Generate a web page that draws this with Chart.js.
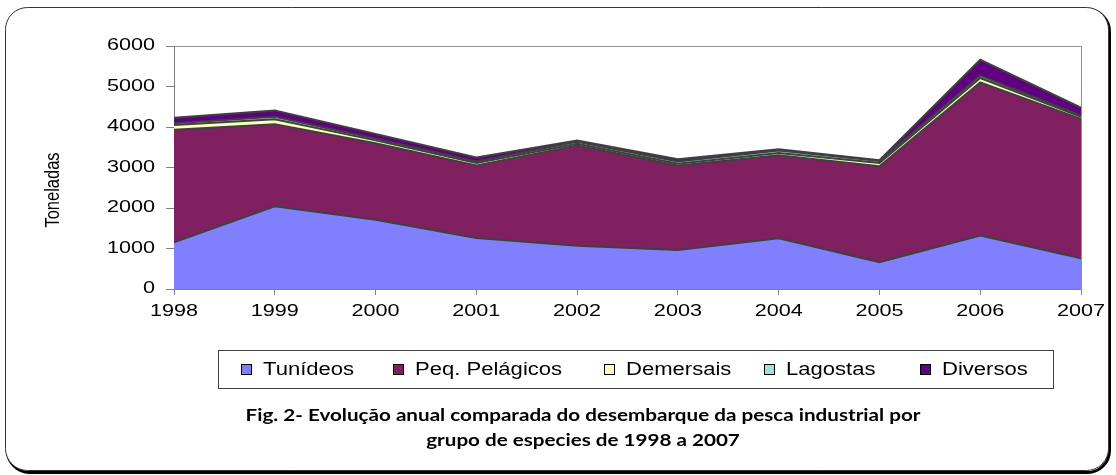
<!DOCTYPE html>
<html>
<head>
<meta charset="utf-8">
<script src="https://cdn.jsdelivr.net/npm/chart.js@4.4.1/dist/chart.umd.min.js"></script>
<style>
html,body{margin:0;padding:0;background:#fff;}
canvas{display:block;}
</style>
</head>
<body>
<canvas id="c" width="1116" height="475"></canvas>
<script>
// ---- data ----
const years = ['1998','1999','2000','2001','2002','2003','2004','2005','2006','2007'];
const tunideos   = [1150, 2040, 1710, 1260, 1070, 960, 1250, 660, 1320, 760];
const pelagicos  = [2780, 2030, 1890, 1790, 2475, 2090, 2050, 2370, 3780, 3440];
const demersais  = [120, 120, 70, 60, 40, 40, 60, 80, 110, 50];
const lagostas   = [40, 60, 40, 40, 50, 60, 60, 50, 60, 30];
const diversos   = [140, 160, 120, 100, 30, 55, 30, 20, 390, 200];
const seriesNames = ['Tunídeos','Peq. Pelágicos','Demersais','Lagostas','Diversos'];
const yTicks = [0,1000,2000,3000,4000,5000,6000];
const yTitle = 'Toneladas';
const captionLines = [
  'Fig. 2- Evolução anual comparada do desembarque da pesca industrial por',
  'grupo de especies de 1998 a 2007'
];

// ---- horizontal text stretch helper (reference text is horizontally widened) ----
const _fill = CanvasRenderingContext2D.prototype.fillText;
CanvasRenderingContext2D.prototype.fillText = function(t, x, y, mw){
  const sx = this.__sx || 1;
  if (sx !== 1) {
    this.save(); this.translate(x, y); this.scale(sx, 1);
    _fill.call(this, t, 0, 0);
    this.restore();
  } else {
    _fill.call(this, t, x, y, mw);
  }
};

const colors = ['#8080FF','#802060','#FFFFC0','#A0E0E0','#600080'];
const values = [tunideos, pelagicos, demersais, lagostas, diversos];

function roundRect(ctx, x, y, w, h, r){
  ctx.beginPath();
  ctx.moveTo(x + r, y);
  ctx.lineTo(x + w - r, y);
  ctx.arcTo(x + w, y, x + w, y + r, r);
  ctx.lineTo(x + w, y + h - r);
  ctx.arcTo(x + w, y + h, x + w - r, y + h, r);
  ctx.lineTo(x + r, y + h);
  ctx.arcTo(x, y + h, x, y + h - r, r);
  ctx.lineTo(x, y + r);
  ctx.arcTo(x, y, x + r, y, r);
  ctx.closePath();
}

const decor = {
  id: 'decor',
  beforeDraw(chart){
    const ctx = chart.ctx;
    ctx.save();
    ctx.fillStyle = '#fff';
    ctx.fillRect(0, 0, chart.width, chart.height);
    // shadow
    roundRect(ctx, 7.5, 9.5, 1102, 463, 22);
    ctx.strokeStyle = '#000'; ctx.lineWidth = 3; ctx.stroke();
    roundRect(ctx, 5.5, 7.5, 1103, 463, 22);
    ctx.fillStyle = '#fff'; ctx.fill();
    ctx.strokeStyle = '#333'; ctx.lineWidth = 1; ctx.stroke();
    ctx.restore();
    ctx.__sx = 1.35;
  },
  afterDraw(chart){
    const ctx = chart.ctx;
    const a = chart.chartArea;
    ctx.save();
    ctx.__sx = 1;
    // plot area border (top/right)
    ctx.strokeStyle = '#909090'; ctx.lineWidth = 1;
    ctx.beginPath();
    ctx.moveTo(Math.round(a.left) + 0.5, Math.round(a.top) + 0.5);
    ctx.lineTo(Math.round(a.right) + 0.5, Math.round(a.top) + 0.5);
    ctx.lineTo(Math.round(a.right) + 0.5, Math.round(a.bottom) + 0.5);
    ctx.stroke();

    // y title
    ctx.save();
    ctx.translate(54, 190);
    ctx.rotate(-Math.PI / 2);
    ctx.scale(1, 1.2);
    ctx.font = '16.5px "Liberation Sans", Arial, sans-serif';
    ctx.fillStyle = '#000';
    ctx.textAlign = 'center'; ctx.textBaseline = 'middle';
    _fill.call(ctx, yTitle, 0, 0);
    ctx.restore();

    // legend box
    ctx.strokeStyle = '#404040'; ctx.lineWidth = 1;
    ctx.strokeRect(218.5, 350.5, 835, 38);
    const legX = [241, 393, 604, 764, 920];
    const cy = 369;
    ctx.font = '17.5px "Liberation Sans", Arial, sans-serif';
    ctx.textBaseline = 'middle'; ctx.textAlign = 'left';
    chart.data.datasets.forEach((ds, i) => {
      const x = legX[i];
      ctx.fillStyle = ds.backgroundColor;
      ctx.fillRect(x, cy - 5, 11, 11);
      ctx.strokeStyle = '#000'; ctx.lineWidth = 1;
      ctx.strokeRect(x + 0.5, cy - 4.5, 10, 10);
      ctx.fillStyle = '#000';
      ctx.__sx = 1.26;
      ctx.fillText(ds.label, x + 22, cy + 1);
      ctx.__sx = 1;
    });

    // caption
    ctx.font = 'bold 17px Lato, "Liberation Sans", sans-serif';
    ctx.fillStyle = '#000';
    ctx.textAlign = 'center'; ctx.textBaseline = 'middle';
    const w0 = ctx.measureText(captionLines[0]).width;
    ctx.__sx = 675 / w0;
    ctx.fillText(captionLines[0], 583, 416);
    ctx.fillText(captionLines[1], 583, 441);
    ctx.__sx = 1;
    ctx.restore();
    ctx.__sx = 1;
  }
};

const datasets = values.map((v, i) => ({
  label: seriesNames[i],
  data: v,
  backgroundColor: colors[i],
  borderColor: '#404040',
  borderWidth: 2,
  pointRadius: 0,
  tension: 0,
  fill: i === 0 ? 'origin' : '-1'
}));

new Chart(document.getElementById('c'), {
  type: 'line',
  data: { labels: years, datasets },
  plugins: [decor],
  options: {
    responsive: false,
    animation: false,
    events: [],
    layout: { padding: { left: 0, top: 46, right: 35, bottom: 146 } },
    plugins: { legend: { display: false }, tooltip: { enabled: false }, title: { display: false } },
    scales: {
      x: {
        offset: false,
        grid: { drawOnChartArea: false, tickLength: 6, color: '#808080' },
        border: { color: '#808080', width: 1 },
        ticks: { color: '#000', font: { family: '"Liberation Sans", Arial, sans-serif', size: 16 }, padding: 7, maxRotation: 0, autoSkip: false },
        afterFit(s){ s.height = 40; }
      },
      y: {
        stacked: true,
        min: 0, max: 6000,
        afterBuildTicks(s){ s.ticks = yTicks.map(v => ({ value: v })); },
        grid: { drawOnChartArea: false, tickLength: 8, color: '#808080' },
        border: { color: '#808080', width: 1 },
        ticks: { color: '#000', font: { family: '"Liberation Sans", Arial, sans-serif', size: 16 }, padding: 11, callback: v => String(v) },
        afterFit(s){ s.width = 174; }
      }
    }
  }
});
</script>
</body>
</html>
